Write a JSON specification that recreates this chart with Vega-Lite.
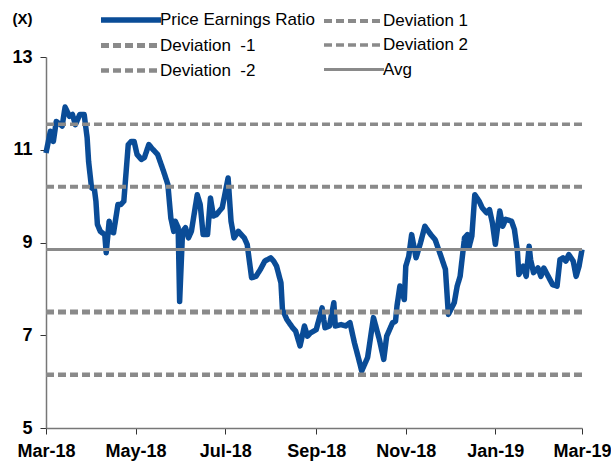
{
 "$schema": "https://vega.github.io/schema/vega-lite/v6.json",
 "width": 536, "height": 371,
 "autosize": {"type": "none"},
 "padding": {"left": 46, "top": 57, "right": 29, "bottom": 33},
 "background": "white",
 "config": {"view": {"stroke": null}, "font": "Liberation Sans"},
 "datasets": {
  "pe": [
   {"date":"2018-03-01","value":10.93,"series":"Price Earnings Ratio"},
   {"date":"2018-03-04","value":11.40,"series":"Price Earnings Ratio"},
   {"date":"2018-03-06","value":11.18,"series":"Price Earnings Ratio"},
   {"date":"2018-03-08","value":11.61,"series":"Price Earnings Ratio"},
   {"date":"2018-03-11","value":11.54,"series":"Price Earnings Ratio"},
   {"date":"2018-03-12","value":11.51,"series":"Price Earnings Ratio"},
   {"date":"2018-03-14","value":11.92,"series":"Price Earnings Ratio"},
   {"date":"2018-03-17","value":11.72,"series":"Price Earnings Ratio"},
   {"date":"2018-03-19","value":11.76,"series":"Price Earnings Ratio"},
   {"date":"2018-03-21","value":11.54,"series":"Price Earnings Ratio"},
   {"date":"2018-03-24","value":11.76,"series":"Price Earnings Ratio"},
   {"date":"2018-03-27","value":11.76,"series":"Price Earnings Ratio"},
   {"date":"2018-03-29","value":11.26,"series":"Price Earnings Ratio"},
   {"date":"2018-03-30","value":10.75,"series":"Price Earnings Ratio"},
   {"date":"2018-04-01","value":10.18,"series":"Price Earnings Ratio"},
   {"date":"2018-04-03","value":10.14,"series":"Price Earnings Ratio"},
   {"date":"2018-04-04","value":9.89,"series":"Price Earnings Ratio"},
   {"date":"2018-04-05","value":9.39,"series":"Price Earnings Ratio"},
   {"date":"2018-04-07","value":9.24,"series":"Price Earnings Ratio"},
   {"date":"2018-04-10","value":9.17,"series":"Price Earnings Ratio"},
   {"date":"2018-04-11","value":8.78,"series":"Price Earnings Ratio"},
   {"date":"2018-04-13","value":9.46,"series":"Price Earnings Ratio"},
   {"date":"2018-04-14","value":9.24,"series":"Price Earnings Ratio"},
   {"date":"2018-04-16","value":9.21,"series":"Price Earnings Ratio"},
   {"date":"2018-04-19","value":9.82,"series":"Price Earnings Ratio"},
   {"date":"2018-04-21","value":9.82,"series":"Price Earnings Ratio"},
   {"date":"2018-04-23","value":9.89,"series":"Price Earnings Ratio"},
   {"date":"2018-04-26","value":11.11,"series":"Price Earnings Ratio"},
   {"date":"2018-04-28","value":11.18,"series":"Price Earnings Ratio"},
   {"date":"2018-04-30","value":11.18,"series":"Price Earnings Ratio"},
   {"date":"2018-05-02","value":10.90,"series":"Price Earnings Ratio"},
   {"date":"2018-05-05","value":10.79,"series":"Price Earnings Ratio"},
   {"date":"2018-05-07","value":10.83,"series":"Price Earnings Ratio"},
   {"date":"2018-05-10","value":11.11,"series":"Price Earnings Ratio"},
   {"date":"2018-05-13","value":11.00,"series":"Price Earnings Ratio"},
   {"date":"2018-05-16","value":10.90,"series":"Price Earnings Ratio"},
   {"date":"2018-05-20","value":10.54,"series":"Price Earnings Ratio"},
   {"date":"2018-05-23","value":10.25,"series":"Price Earnings Ratio"},
   {"date":"2018-05-25","value":9.53,"series":"Price Earnings Ratio"},
   {"date":"2018-05-27","value":9.24,"series":"Price Earnings Ratio"},
   {"date":"2018-05-28","value":9.46,"series":"Price Earnings Ratio"},
   {"date":"2018-05-30","value":9.32,"series":"Price Earnings Ratio"},
   {"date":"2018-05-31","value":7.73,"series":"Price Earnings Ratio"},
   {"date":"2018-06-02","value":9.24,"series":"Price Earnings Ratio"},
   {"date":"2018-06-04","value":9.32,"series":"Price Earnings Ratio"},
   {"date":"2018-06-06","value":9.10,"series":"Price Earnings Ratio"},
   {"date":"2018-06-08","value":9.24,"series":"Price Earnings Ratio"},
   {"date":"2018-06-12","value":10.03,"series":"Price Earnings Ratio"},
   {"date":"2018-06-14","value":9.82,"series":"Price Earnings Ratio"},
   {"date":"2018-06-16","value":9.17,"series":"Price Earnings Ratio"},
   {"date":"2018-06-19","value":9.17,"series":"Price Earnings Ratio"},
   {"date":"2018-06-21","value":9.96,"series":"Price Earnings Ratio"},
   {"date":"2018-06-23","value":9.57,"series":"Price Earnings Ratio"},
   {"date":"2018-06-25","value":9.60,"series":"Price Earnings Ratio"},
   {"date":"2018-06-29","value":9.75,"series":"Price Earnings Ratio"},
   {"date":"2018-07-03","value":10.39,"series":"Price Earnings Ratio"},
   {"date":"2018-07-05","value":9.46,"series":"Price Earnings Ratio"},
   {"date":"2018-07-07","value":9.10,"series":"Price Earnings Ratio"},
   {"date":"2018-07-10","value":9.24,"series":"Price Earnings Ratio"},
   {"date":"2018-07-14","value":9.10,"series":"Price Earnings Ratio"},
   {"date":"2018-07-16","value":8.96,"series":"Price Earnings Ratio"},
   {"date":"2018-07-19","value":8.24,"series":"Price Earnings Ratio"},
   {"date":"2018-07-22","value":8.27,"series":"Price Earnings Ratio"},
   {"date":"2018-07-25","value":8.42,"series":"Price Earnings Ratio"},
   {"date":"2018-07-28","value":8.60,"series":"Price Earnings Ratio"},
   {"date":"2018-08-01","value":8.67,"series":"Price Earnings Ratio"},
   {"date":"2018-08-03","value":8.60,"series":"Price Earnings Ratio"},
   {"date":"2018-08-05","value":8.49,"series":"Price Earnings Ratio"},
   {"date":"2018-08-08","value":8.13,"series":"Price Earnings Ratio"},
   {"date":"2018-08-09","value":7.56,"series":"Price Earnings Ratio"},
   {"date":"2018-08-12","value":7.34,"series":"Price Earnings Ratio"},
   {"date":"2018-08-16","value":7.16,"series":"Price Earnings Ratio"},
   {"date":"2018-08-18","value":7.09,"series":"Price Earnings Ratio"},
   {"date":"2018-08-21","value":6.77,"series":"Price Earnings Ratio"},
   {"date":"2018-08-24","value":7.20,"series":"Price Earnings Ratio"},
   {"date":"2018-08-26","value":6.98,"series":"Price Earnings Ratio"},
   {"date":"2018-08-28","value":7.05,"series":"Price Earnings Ratio"},
   {"date":"2018-09-01","value":7.12,"series":"Price Earnings Ratio"},
   {"date":"2018-09-05","value":7.59,"series":"Price Earnings Ratio"},
   {"date":"2018-09-07","value":7.16,"series":"Price Earnings Ratio"},
   {"date":"2018-09-10","value":7.20,"series":"Price Earnings Ratio"},
   {"date":"2018-09-13","value":7.70,"series":"Price Earnings Ratio"},
   {"date":"2018-09-14","value":7.20,"series":"Price Earnings Ratio"},
   {"date":"2018-09-18","value":7.23,"series":"Price Earnings Ratio"},
   {"date":"2018-09-21","value":7.20,"series":"Price Earnings Ratio"},
   {"date":"2018-09-24","value":7.27,"series":"Price Earnings Ratio"},
   {"date":"2018-09-27","value":6.84,"series":"Price Earnings Ratio"},
   {"date":"2018-09-30","value":6.48,"series":"Price Earnings Ratio"},
   {"date":"2018-10-02","value":6.23,"series":"Price Earnings Ratio"},
   {"date":"2018-10-06","value":6.52,"series":"Price Earnings Ratio"},
   {"date":"2018-10-10","value":7.38,"series":"Price Earnings Ratio"},
   {"date":"2018-10-14","value":6.91,"series":"Price Earnings Ratio"},
   {"date":"2018-10-17","value":6.48,"series":"Price Earnings Ratio"},
   {"date":"2018-10-19","value":6.98,"series":"Price Earnings Ratio"},
   {"date":"2018-10-23","value":7.27,"series":"Price Earnings Ratio"},
   {"date":"2018-10-25","value":7.30,"series":"Price Earnings Ratio"},
   {"date":"2018-10-26","value":7.63,"series":"Price Earnings Ratio"},
   {"date":"2018-10-28","value":8.06,"series":"Price Earnings Ratio"},
   {"date":"2018-10-31","value":7.77,"series":"Price Earnings Ratio"},
   {"date":"2018-11-01","value":8.49,"series":"Price Earnings Ratio"},
   {"date":"2018-11-03","value":8.70,"series":"Price Earnings Ratio"},
   {"date":"2018-11-05","value":9.17,"series":"Price Earnings Ratio"},
   {"date":"2018-11-08","value":8.67,"series":"Price Earnings Ratio"},
   {"date":"2018-11-11","value":8.99,"series":"Price Earnings Ratio"},
   {"date":"2018-11-14","value":9.35,"series":"Price Earnings Ratio"},
   {"date":"2018-11-18","value":9.17,"series":"Price Earnings Ratio"},
   {"date":"2018-11-21","value":9.06,"series":"Price Earnings Ratio"},
   {"date":"2018-11-25","value":8.70,"series":"Price Earnings Ratio"},
   {"date":"2018-11-28","value":8.42,"series":"Price Earnings Ratio"},
   {"date":"2018-11-30","value":7.45,"series":"Price Earnings Ratio"},
   {"date":"2018-12-04","value":7.70,"series":"Price Earnings Ratio"},
   {"date":"2018-12-06","value":8.06,"series":"Price Earnings Ratio"},
   {"date":"2018-12-08","value":8.27,"series":"Price Earnings Ratio"},
   {"date":"2018-12-11","value":9.10,"series":"Price Earnings Ratio"},
   {"date":"2018-12-13","value":9.17,"series":"Price Earnings Ratio"},
   {"date":"2018-12-14","value":8.89,"series":"Price Earnings Ratio"},
   {"date":"2018-12-16","value":9.14,"series":"Price Earnings Ratio"},
   {"date":"2018-12-18","value":10.03,"series":"Price Earnings Ratio"},
   {"date":"2018-12-21","value":9.89,"series":"Price Earnings Ratio"},
   {"date":"2018-12-23","value":9.75,"series":"Price Earnings Ratio"},
   {"date":"2018-12-26","value":9.64,"series":"Price Earnings Ratio"},
   {"date":"2018-12-28","value":9.71,"series":"Price Earnings Ratio"},
   {"date":"2018-12-30","value":9.42,"series":"Price Earnings Ratio"},
   {"date":"2019-01-01","value":8.96,"series":"Price Earnings Ratio"},
   {"date":"2019-01-04","value":9.68,"series":"Price Earnings Ratio"},
   {"date":"2019-01-06","value":9.35,"series":"Price Earnings Ratio"},
   {"date":"2019-01-08","value":9.50,"series":"Price Earnings Ratio"},
   {"date":"2019-01-12","value":9.46,"series":"Price Earnings Ratio"},
   {"date":"2019-01-14","value":9.28,"series":"Price Earnings Ratio"},
   {"date":"2019-01-16","value":8.81,"series":"Price Earnings Ratio"},
   {"date":"2019-01-17","value":8.31,"series":"Price Earnings Ratio"},
   {"date":"2019-01-20","value":8.49,"series":"Price Earnings Ratio"},
   {"date":"2019-01-22","value":8.27,"series":"Price Earnings Ratio"},
   {"date":"2019-01-24","value":8.92,"series":"Price Earnings Ratio"},
   {"date":"2019-01-25","value":8.63,"series":"Price Earnings Ratio"},
   {"date":"2019-01-27","value":8.35,"series":"Price Earnings Ratio"},
   {"date":"2019-01-30","value":8.45,"series":"Price Earnings Ratio"},
   {"date":"2019-02-01","value":8.27,"series":"Price Earnings Ratio"},
   {"date":"2019-02-03","value":8.45,"series":"Price Earnings Ratio"},
   {"date":"2019-02-06","value":8.27,"series":"Price Earnings Ratio"},
   {"date":"2019-02-09","value":8.09,"series":"Price Earnings Ratio"},
   {"date":"2019-02-12","value":8.06,"series":"Price Earnings Ratio"},
   {"date":"2019-02-14","value":8.63,"series":"Price Earnings Ratio"},
   {"date":"2019-02-16","value":8.67,"series":"Price Earnings Ratio"},
   {"date":"2019-02-18","value":8.60,"series":"Price Earnings Ratio"},
   {"date":"2019-02-20","value":8.74,"series":"Price Earnings Ratio"},
   {"date":"2019-02-23","value":8.60,"series":"Price Earnings Ratio"},
   {"date":"2019-02-25","value":8.27,"series":"Price Earnings Ratio"},
   {"date":"2019-02-27","value":8.49,"series":"Price Earnings Ratio"},
   {"date":"2019-03-01","value":8.85,"series":"Price Earnings Ratio"}
  ],
  "ref": [
   {"date":"2018-03-01","value":10.20,"series":"Deviation 1"},
   {"date":"2019-03-01","value":10.20,"series":"Deviation 1"},
   {"date":"2018-03-01","value":7.50,"series":"Deviation \u00a0-1"},
   {"date":"2019-03-01","value":7.50,"series":"Deviation \u00a0-1"},
   {"date":"2018-03-01","value":11.55,"series":"Deviation 2"},
   {"date":"2019-03-01","value":11.55,"series":"Deviation 2"},
   {"date":"2018-03-01","value":6.15,"series":"Deviation \u00a0-2"},
   {"date":"2019-03-01","value":6.15,"series":"Deviation \u00a0-2"},
   {"date":"2018-03-01","value":8.85,"series":"Avg"},
   {"date":"2019-03-01","value":8.85,"series":"Avg"}
  ]
 },
 "encoding": {
  "x": {
   "field": "date", "type": "temporal",
   "scale": {"type": "utc", "domain": [{"year": 2018, "month": 3, "date": 1, "utc": true}, {"year": 2019, "month": 3, "date": 1, "utc": true}]},
   "axis": {
    "title": null, "format": "%b-%y", "grid": false,
    "values": [
     {"year": 2018, "month": 3, "date": 1, "utc": true},
     {"year": 2018, "month": 5, "date": 1, "utc": true},
     {"year": 2018, "month": 7, "date": 1, "utc": true},
     {"year": 2018, "month": 9, "date": 1, "utc": true},
     {"year": 2018, "month": 11, "date": 1, "utc": true},
     {"year": 2019, "month": 1, "date": 1, "utc": true},
     {"year": 2019, "month": 3, "date": 1, "utc": true}
    ],
    "labelFont": "Liberation Sans", "labelFontSize": 18, "labelFontWeight": "bold", "labelColor": "#000000",
    "labelFlush": false, "labelOverlap": false, "labelPadding": 8,
    "tickSize": 6, "tickColor": "#333333", "domainColor": "#777777", "domainWidth": 1.5
   }
  },
  "y": {
   "field": "value", "type": "quantitative",
   "scale": {"domain": [5, 13], "nice": false, "zero": false},
   "axis": {
    "values": [5, 7, 9, 11, 13], "grid": false,
    "title": "(X)", "titleAngle": 0, "titleAlign": "center", "titleBaseline": "middle",
    "titleX": -24, "titleY": -39, "titleFontSize": 15, "titleFontWeight": "bold", "titleFont": "Liberation Sans", "titleColor": "#000000",
    "labelFont": "Liberation Sans", "labelFontSize": 18, "labelFontWeight": "bold", "labelColor": "#000000",
    "labelPadding": 8, "tickSize": 6, "tickColor": "#333333", "domainColor": "#777777", "domainWidth": 1.5
   }
  },
  "color": {
   "field": "series", "type": "nominal",
   "scale": {
    "domain": ["Price Earnings Ratio", "Deviation \u00a0-1", "Deviation \u00a0-2", "Deviation 1", "Deviation 2", "Avg"],
    "range": ["#0a4c97", "#8a8a8a", "#8a8a8a", "#8a8a8a", "#8a8a8a", "#8a8a8a"]
   },
   "legend": {
    "title": null, "orient": "none", "legendX": 52, "legendY": -50, "columns": 2,
    "symbolType": "M-1,0H5", "symbolSize": 400, "labelFont": "Liberation Sans", "labelFontSize": 17,
    "labelColor": "#000000", "labelOffset": 36, "columnPadding": 1, "rowPadding": 2
   }
  },
  "strokeDash": {
   "field": "series", "type": "nominal",
   "scale": {
    "domain": ["Price Earnings Ratio", "Deviation \u00a0-1", "Deviation \u00a0-2", "Deviation 1", "Deviation 2", "Avg"],
    "range": [[1, 0], [8, 4], [8, 4], [8, 4], [8, 4], [1, 0]]
   }
  },
  "strokeWidth": {
   "field": "series", "type": "nominal",
   "scale": {
    "domain": ["Price Earnings Ratio", "Deviation \u00a0-1", "Deviation \u00a0-2", "Deviation 1", "Deviation 2", "Avg"],
    "range": [5.5, 3, 3, 3, 3, 3.5]
   }
  }
 },
 "layer": [
  {"data": {"name": "pe"}, "mark": {"type": "line", "strokeJoin": "round"}},
  {"data": {"name": "ref"}, "mark": {"type": "line"}}
 ]
}
